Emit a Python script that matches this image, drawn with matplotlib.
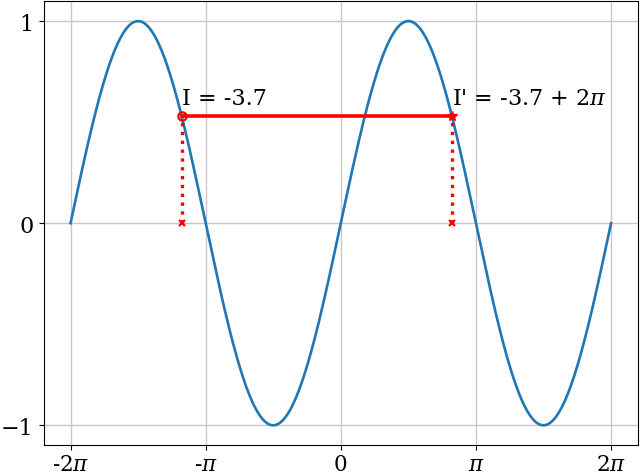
import numpy as np
import matplotlib
matplotlib.use("Agg")
import matplotlib.pyplot as plt

plt.rcParams['font.family'] = ['DejaVu Serif']
plt.rcParams['mathtext.fontset'] = 'dejavuserif'

x_start = -2 * np.pi
x_end = 2 * np.pi
I = -3.7
I_shift = I + 2 * np.pi
xtick_vals = [-2 * np.pi, -np.pi, 0, np.pi, 2 * np.pi]
xtick_labels = ['-2$\\pi$', '-$\\pi$', '0', '$\\pi$', '2$\\pi$']
ytick_vals = [-1, 0, 1]

x = np.linspace(x_start, x_end, 1000)
y = np.sin(x)

fig = plt.figure(figsize=(6.4, 4.77), dpi=100)
ax = fig.add_axes([0.068, 0.064, 0.929, 0.932])
ax.plot(x, y, color='#1f77b4', lw=1.9)
ax.grid(True, color='#c8c8c8', lw=1)

yI = np.sin(I)
ax.plot([I, I_shift], [yI, yI], color='red', lw=2.6)
ax.plot([I, I], [0, yI], color='red', ls=':', lw=2.4)
ax.plot([I_shift, I_shift], [0, yI], color='red', ls=':', lw=2.4)
ax.plot([I], [yI], marker='o', mfc='none', mec='red', ms=6, mew=1.6)
ax.plot([I_shift], [yI], marker='*', color='red', ms=7)
ax.plot([I, I_shift], [0, 0], ls='none', marker='x', color='red', ms=4, mew=1.6)

ax.text(I, yI + 0.035, 'I = -3.7', fontsize=16, ha='left', va='bottom')
ax.text(I_shift, yI + 0.035, "I' = -3.7 + 2$\\pi$", fontsize=16, ha='left', va='bottom')

ax.set_xticks(xtick_vals)
ax.set_xticklabels(xtick_labels, fontsize=15.5)
ax.set_yticks(ytick_vals)
ax.tick_params(axis='y', labelsize=16)
ax.tick_params(axis='x', pad=2)
ax.set_axisbelow(True)

fig.savefig('out.png', dpi=100)
